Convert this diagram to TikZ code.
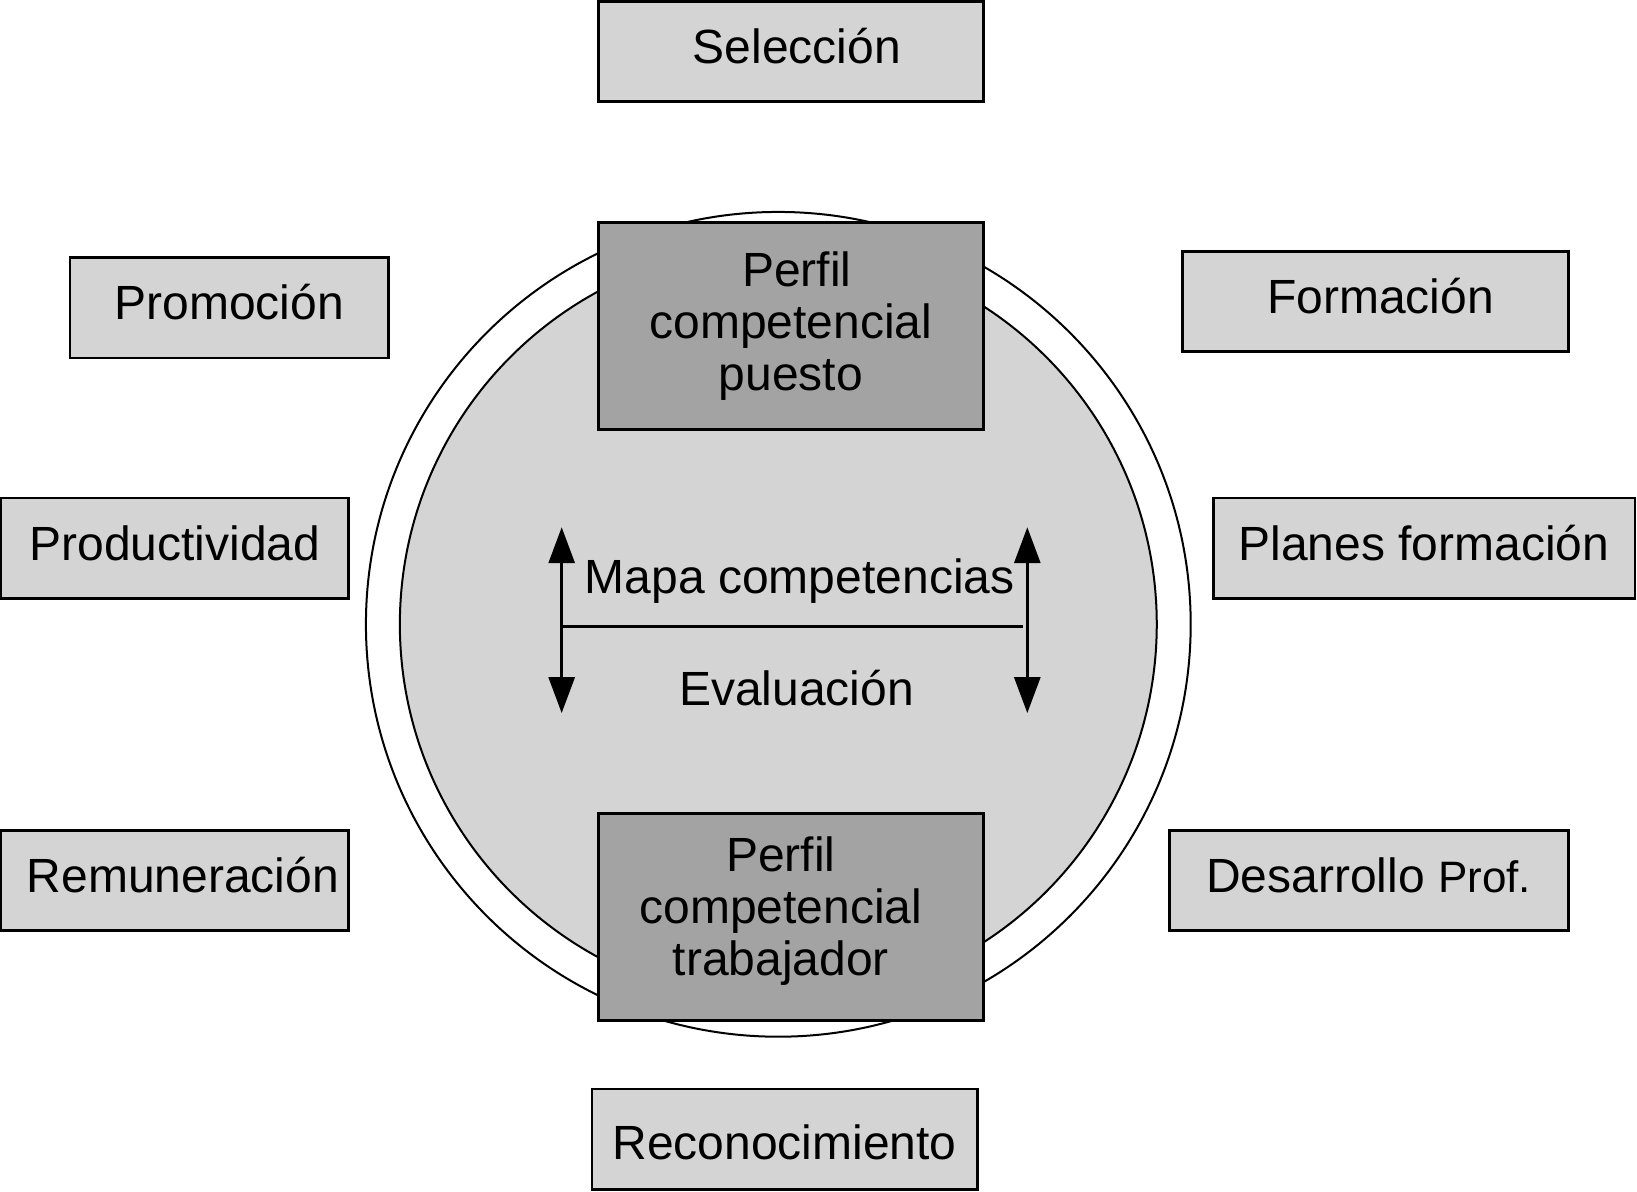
\documentclass[tikz,border=0pt]{standalone}
\usepackage{fontspec}
\setmainfont{Liberation Sans}
\usetikzlibrary{positioning,arrows.meta}

\definecolor{boxgray}{gray}{0.83}
\definecolor{darkgray}{gray}{0.64}

\tikzset{
  caja/.style={draw, line width=1.4pt, fill=boxgray, inner sep=0pt,
    align=center, font=\fontsize{24}{26}\selectfont},
  area/.style={caja, minimum height=50.1pt, text height=17pt, text depth=5pt},
  perfil/.style={caja, fill=darkgray, minimum width=192.6pt, minimum height=103.4pt},
  eje/.style={line width=1.5pt, {Triangle[length=18pt,width=13pt]}-{Triangle[length=18pt,width=13pt]}},
  lbl/.style={inner sep=0pt, font=\fontsize{24}{26}\selectfont},
}

\begin{document}
\begin{tikzpicture}[x=0.522pt, y=-0.522pt]
		\useasboundingbox (0,0) rectangle (1568,1141);
		% rings
		\draw[line width=1pt, fill=white] (745.5,598) circle[radius=395];
		\draw[line width=1pt, fill=boxgray] (745.5,598) circle[radius=362.5];
		% profiles
		\node[perfil] (puesto) at (757.5,312) {\hspace*{6pt}Perfil\\competencial\\puesto};
		\node[perfil] (trabajador) at (757.5,878.5) {\raisebox{-3pt}[0pt][0pt]{\parbox{150pt}{\centering Perfil\\competencial\\trabajador}}\hspace*{10pt}};
		% surrounding areas
		\node[area, minimum width=192.6pt] (seleccion) at (757.5,49.5) {\hspace*{6pt}Selección};
		\node[area, minimum width=159.2pt] (promocion) at (219.5,295) {Promoción};
		\node[area, minimum width=192.6pt] (formacion) at (1317.5,289) {\hspace*{5pt}Formación};
		\node[area, minimum width=173.8pt] (productividad) at (167.5,525) {Productividad};
		\node[area, minimum width=210.9pt] (planes) at (1364,525) {Planes formación};
		\node[area, minimum width=173.8pt] (remuneracion) at (167.5,843.5) {\hspace*{8pt}Remuneración};
		\node[area, minimum width=199.4pt] (desarrollo) at (1311,843.5) {Desarrollo {\fontsize{22}{24}\selectfont Prof.}};
		\node[area, minimum width=192.6pt, text height=21pt, text depth=1pt] (reconocimiento) at (751.5,1091) {Reconocimiento};
		% map and evaluation
		\node[lbl] (mapa) at (766,557) {Mapa competencias};
		\node[lbl] (evaluacion) at (763,659) {Evaluación};
		\coordinate (lsup) at (538,505);
		\coordinate (linf) at (538,683);
		\coordinate (rsup) at (984,505);
		\coordinate (rinf) at (984,683);
		\coordinate (hizq) at (538,600);
		\coordinate (hder) at (980,600);
		\draw[eje] (linf) -- (lsup);
		\draw[eje] (rinf) -- (rsup);
		\draw[line width=1.5pt] (hizq) -- (hder);
\end{tikzpicture}
\end{document}
